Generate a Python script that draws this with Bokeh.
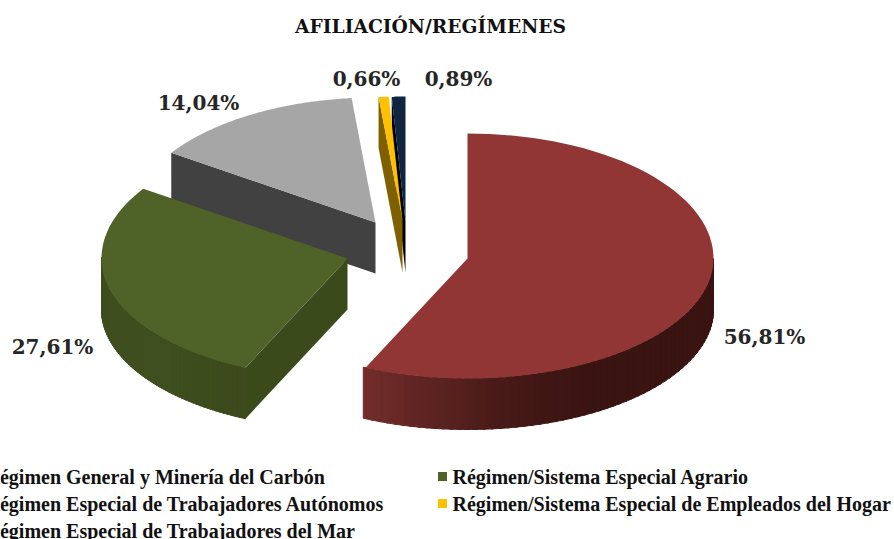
import numpy as np
from bokeh.plotting import figure
from bokeh.embed import file_html
from bokeh.resources import INLINE
from bokeh.core.properties import value

title = "AFILIACIÓN/REGÍMENES"
categories = ["Régimen General y Minería del Carbón", "Régimen/Sistema Especial Agrario",
              "Régimen Especial de Trabajadores Autónomos", "Régimen/Sistema Especial de Empleados del Hogar",
              "Régimen Especial de Trabajadores del Mar"]
shares = [56.81, 27.61, 14.04, 0.66, 0.89]
labels = ["56,81%", "27,61%", "14,04%", "0,66%", "0,89%"]
top_colors = ["#913634", "#4f6228", "#a6a6a6", "#ffc000", "#10253f"]
wall_colors = ["#5a2220", "#3b4a1b", "#414141", "#7f6000", "#000000"]

RX, RY_FAR, RY_NEAR, DEPTH = 246, 125, 120, 51
apex = [(467, 258), (347, 258), (375, 222), (402, 221), (405, 221)]
label_xy = [(764, 336), (52, 346), (198, 102), (366, 78), (458, 78)]
rim_stops = {0: ["#742e2c", "#5a2220", "#431815", "#3a1411", "#3a1411", "#3a1411", "#3a1411"],
             1: ["#3c4a1d", "#3f4f1f", "#3f4f1f", "#3f4f1f"]}
legend_x = [-15, 452, -15, 452, -15]
legend_y = [476, 476, 503, 503, 530]

p = figure(width=894, height=539, x_range=(0, 894), y_range=(539, 0), output_backend="svg",
           toolbar_location=None, min_border=0, outline_line_color=None)
p.axis.visible = False
p.grid.visible = False

fr = np.cumsum([0] + shares) / 100 * 2 * np.pi
fr = fr / fr[-1] * 2 * np.pi


def pt(c, a):
    ca = np.cos(a)
    return c[0] + RX * np.sin(a), c[1] - np.where(ca > 0, RY_FAR, RY_NEAR) * ca


def hexmix(stops, t):
    rgb = np.array([[int(s[i:i + 2], 16) for i in (1, 3, 5)] for s in stops], float)
    pos = np.linspace(0, 1, len(stops))
    return "#%02x%02x%02x" % tuple(int(np.interp(t, pos, rgb[:, k])) for k in range(3))


for i in [2, 4, 3, 1, 0]:
    a0, a1, c = fr[i], fr[i + 1], apex[i]
    # wall on the cut edge that faces the viewer
    if i != 0:
        x0, y0 = pt(c, a0)
        p.patch([c[0], x0, x0, c[0]], [c[1], y0, y0 + DEPTH, c[1] + DEPTH],
                fill_color=wall_colors[i], line_color=None)
    # outer rim, drawn only on the near half of the ellipse
    lo, hi = max(a0, np.pi / 2), min(a1, 3 * np.pi / 2)
    if i in rim_stops and hi > lo:
        edges = np.linspace(lo, hi, 61)
        for k in range(60):
            s = np.linspace(edges[k], edges[k + 1] + 0.01, 3)
            xs, ys = pt(c, s)
            t = (edges[k] - lo) / (hi - lo)
            col = hexmix(rim_stops[i], t if i == 1 else 1 - t)
            p.patch(list(xs) + list(xs[::-1]), list(ys) + list(ys[::-1] + DEPTH),
                    fill_color=col, line_color=col, line_width=1)
    s = np.linspace(a0, a1, 80)
    xs, ys = pt(c, s)
    p.patch([c[0], *xs], [c[1], *ys], fill_color=top_colors[i], line_color=None)

p.text([l[0] for l in label_xy], [l[1] for l in label_xy], text=labels,
       text_font=value("DejaVu Serif"), text_font_style="bold", text_font_size="20px",
       text_color="#262626", text_align="center", text_baseline="middle")

p.text([430], [25], text=[title], text_font=value("DejaVu Serif"), text_font_style="bold",
       text_font_size="18.7px", text_color="#111111", text_align="center", text_baseline="middle")

p.rect([x - 10 for x in legend_x], legend_y, width=9, height=9, fill_color=top_colors, line_color=None)
p.text(legend_x, legend_y, text=categories, text_font=value("Liberation Serif"), text_font_style="bold",
       text_font_size="20px", text_color="#111111", text_align="left", text_baseline="middle")

open("out.html", "w").write(file_html(p, INLINE))
